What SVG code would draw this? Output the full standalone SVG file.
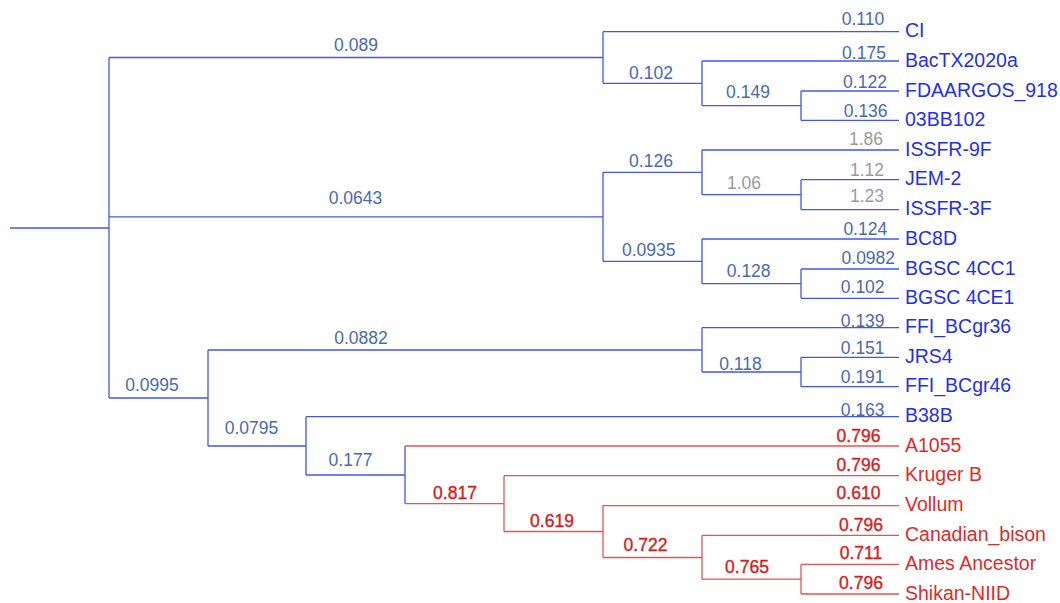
<svg xmlns="http://www.w3.org/2000/svg" width="1060" height="603" viewBox="0 0 1060 603">
<style>
.lb{stroke:#4455ee;stroke-width:1.3;fill:none}
.lr{stroke:#ea5252;stroke-width:1.3;fill:none}
.leaf{font-family:"Liberation Sans",Arial,sans-serif;font-size:19.5px;fill:#1f30ee}
.leafr{font-family:"Liberation Sans",Arial,sans-serif;font-size:19.5px;fill:#e02a2a}
.v{font-family:"Liberation Sans",Arial,sans-serif;font-size:17.5px;fill:#4a69b5;text-anchor:middle}
.vg{font-family:"Liberation Sans",Arial,sans-serif;font-size:17.5px;fill:#9a9a9a;text-anchor:middle}
.vr{font-family:"Liberation Sans",Arial,sans-serif;font-size:17.5px;fill:#d61e1e;stroke:#d61e1e;stroke-width:0.4;text-anchor:middle}
</style>
<rect width="1060" height="603" fill="#ffffff"/>
<g id="connectors">
<g class="lb">
<path d="M10 228H109"/>
<path d="M109 57.5V398"/>
<path d="M109 57.5H603M603 31.7V83.3M603 31.7H899"/>
<path d="M603 83.3H702M702 61V105.7M702 61H899"/>
<path d="M702 105.7H801M801 91V120.3M801 91H899M801 120.3H899"/>
<path d="M109 216.8H603M603 172.3V261.3"/>
<path d="M603 172.3H702M702 150V194.7M702 150H899"/>
<path d="M702 194.7H801M801 179.7V209.7M801 179.7H899M801 209.7H899"/>
<path d="M603 261.3H702M702 239V283.7M702 239H899"/>
<path d="M702 283.7H801M801 269V298.3M801 269H899M801 298.3H899"/>
<path d="M109 398H208M208 350V446"/>
<path d="M208 350H702M702 327.7V372M702 327.7H899"/>
<path d="M702 372H801M801 357.3V386.7M801 357.3H899M801 386.7H899"/>
<path d="M208 446H306M306 416.7V475M306 416.7H899"/>
<path d="M306 475H405M405 446V503.6"/>
</g>
<g class="lr">
<path d="M405 446H899"/>
<path d="M405 503.6H504M504 475.7V531.5M504 475.7H899"/>
<path d="M504 531.5H603M603 505.7V557.5M603 505.7H899"/>
<path d="M603 557.5H702M702 535.3V579.2M702 535.3H899"/>
<path d="M702 579.2H801M801 564.3V594M801 564.3H899M801 594H899"/>
</g>
</g>
<g id="n089"><text class="v" x="356" y="50.5">0.089</text></g>
<g id="n102"><text class="v" x="651" y="79">0.102</text></g>
<g id="n149"><text class="v" x="748" y="98.3">0.149</text></g>
<g id="n0643"><text class="v" x="355.5" y="204">0.0643</text></g>
<g id="n126"><text class="v" x="651" y="167.3">0.126</text></g>
<g id="n106"><text class="vg" x="744" y="189">1.06</text></g>
<g id="n0935"><text class="v" x="648.7" y="256">0.0935</text></g>
<g id="n128"><text class="v" x="748.7" y="277.3">0.128</text></g>
<g id="n0995"><text class="v" x="152" y="390.7">0.0995</text></g>
<g id="n0882"><text class="v" x="361" y="344.3">0.0882</text></g>
<g id="n118"><text class="v" x="740.5" y="370">0.118</text></g>
<g id="n0795"><text class="v" x="251.5" y="434">0.0795</text></g>
<g id="n177"><text class="v" x="350.5" y="465.7">0.177</text></g>
<g id="n817"><text class="vr" x="455" y="499.3">0.817</text></g>
<g id="n619"><text class="vr" x="552" y="526.7">0.619</text></g>
<g id="n722"><text class="vr" x="645.5" y="551">0.722</text></g>
<g id="n765"><text class="vr" x="747" y="573.3">0.765</text></g>

<g id="leaf-CI"><text class="v" x="863" y="25">0.110</text><text class="leaf" x="905" y="37.2">CI</text></g>
<g id="leaf-BacTX2020a"><text class="v" x="864" y="59.3">0.175</text><text class="leaf" x="905" y="66.5">BacTX2020a</text></g>
<g id="leaf-FDAARGOS_918"><text class="v" x="865" y="87.7">0.122</text><text class="leaf" x="905" y="96.5">FDAARGOS_918</text></g>
<g id="leaf-03BB102"><text class="v" x="865.7" y="116.7">0.136</text><text class="leaf" x="905" y="125.8">03BB102</text></g>
<g id="leaf-ISSFR-9F"><text class="vg" x="866" y="145">1.86</text><text class="leaf" x="905" y="155.5">ISSFR-9F</text></g>
<g id="leaf-JEM-2"><text class="vg" x="867" y="175.7">1.12</text><text class="leaf" x="905" y="185.2">JEM-2</text></g>
<g id="leaf-ISSFR-3F"><text class="vg" x="867" y="202.3">1.23</text><text class="leaf" x="905" y="215.2">ISSFR-3F</text></g>
<g id="leaf-BC8D"><text class="v" x="865.3" y="235">0.124</text><text class="leaf" x="905" y="244.5">BC8D</text></g>
<g id="leaf-BGSC_4CC1"><text class="v" x="868.3" y="264">0.0982</text><text class="leaf" x="905" y="274.5">BGSC 4CC1</text></g>
<g id="leaf-BGSC_4CE1"><text class="v" x="862.7" y="292.7">0.102</text><text class="leaf" x="905" y="303.8">BGSC 4CE1</text></g>
<g id="leaf-FFI_BCgr36"><text class="v" x="862.7" y="327.3">0.139</text><text class="leaf" x="905" y="333.2">FFI_BCgr36</text></g>
<g id="leaf-JRS4"><text class="v" x="862.7" y="354">0.151</text><text class="leaf" x="905" y="362.8">JRS4</text></g>
<g id="leaf-FFI_BCgr46"><text class="v" x="862.7" y="382.7">0.191</text><text class="leaf" x="905" y="392.2">FFI_BCgr46</text></g>
<g id="leaf-B38B"><text class="v" x="862.7" y="416">0.163</text><text class="leaf" x="905" y="422.2">B38B</text></g>
<g id="leaf-A1055"><text class="vr" x="858.5" y="441.7">0.796</text><text class="leafr" x="905" y="451.5">A1055</text></g>
<g id="leaf-Kruger_B"><text class="vr" x="858.5" y="470.7">0.796</text><text class="leafr" x="905" y="481.2">Kruger B</text></g>
<g id="leaf-Vollum"><text class="vr" x="858.5" y="499.3">0.610</text><text class="leafr" x="905" y="511.2">Vollum</text></g>
<g id="leaf-Canadian_bison"><text class="vr" x="861" y="530.7">0.796</text><text class="leafr" x="905" y="540.8">Canadian_bison</text></g>
<g id="leaf-Ames_Ancestor"><text class="vr" x="861" y="559">0.711</text><text class="leafr" x="905" y="569.8">Ames Ancestor</text></g>
<g id="leaf-Shikan-NIID"><text class="vr" x="861" y="589.3">0.796</text><text class="leafr" x="905" y="599.5">Shikan-NIID</text></g>
</svg>
